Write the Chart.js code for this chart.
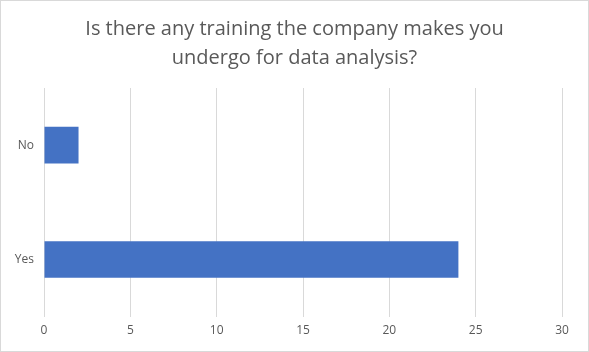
<!DOCTYPE html>
<html lang="en">
<head>
  <meta charset="UTF-8">
  <title>Training for data analysis</title>
  <script src="https://cdn.jsdelivr.net/npm/chart.js"></script>
  <style>
    body { margin: 0; background: #fff; }
    #wrap { width: 587px; height: 350px; border: 1px solid #d9d9d9; }
  </style>
</head>
<body>
  <div id="wrap"><canvas id="chart" width="587" height="350"></canvas></div>

  <script>
    const categories = ['No', 'Yes'];
    const counts = [2, 24];
    const titleLines = ['Is there any training the company makes you', 'undergo for data analysis?'];

    const ctx = document.getElementById('chart').getContext('2d');
    new Chart(ctx, {
      type: 'bar',
      data: {
        labels: categories,
        datasets: [{
          data: counts,
          backgroundColor: '#4472c4',
          barPercentage: 0.64,
          categoryPercentage: 0.5
        }]
      },
      options: {
        indexAxis: 'y',
        responsive: false,
        animation: false,
        layout: { padding: { left: 0, right: 0, bottom: 6, top: 4 } },
        plugins: {
          legend: { display: false },
          tooltip: { enabled: false },
          title: {
            display: true,
            text: titleLines,
            color: '#595959',
            font: { family: 'Open Sans', size: 20, weight: 'normal', lineHeight: 1.45 },
            padding: { top: 10, bottom: 15 }
          }
        },
        scales: {
          x: {
            min: 0,
            max: 30,
            ticks: { stepSize: 5, color: '#595959', font: { family: 'Open Sans', size: 12 }, padding: 7 },
            grid: { color: '#d9d9d9', drawTicks: false },
            border: { display: false },
            // keep the plot off the right edge without shifting the title
            afterFit: s => { s.paddingRight = 26; }
          },
          y: {
            ticks: { color: '#595959', font: { family: 'Open Sans', size: 12 }, padding: 10 },
            grid: { display: false, drawTicks: false },
            border: { display: false },
            afterFit: s => { s.width = 43; }
          }
        }
      }
    });
  </script>
</body>
</html>
